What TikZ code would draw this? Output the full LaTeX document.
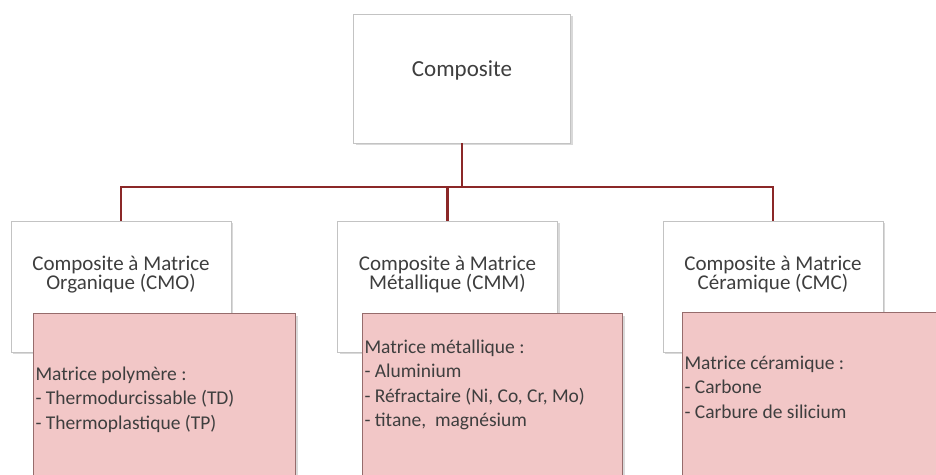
\documentclass[tikz,border=0pt]{standalone}
\usepackage{fontspec}
\setmainfont{Carlito}
\usetikzlibrary{shadows}
\definecolor{linkred}{RGB}{139,40,40}
\definecolor{boxgrey}{RGB}{195,195,195}
\definecolor{detpink}{RGB}{242,199,199}
\definecolor{detedge}{RGB}{150,108,108}
\definecolor{txtgrey}{RGB}{62,62,62}
\begin{document}
\begin{tikzpicture}[x=1pt,y=-1pt,
  link/.style={draw=linkred,line width=2.8pt},
  topbox/.style={draw=boxgrey,fill=white,line width=0.8pt,text=txtgrey,
    drop shadow={shadow xshift=2pt,shadow yshift=-2pt,opacity=0.3},
    minimum width=217pt,minimum height=129pt,font=\fontsize{23}{27}\selectfont},
  catbox/.style={draw=boxgrey,fill=white,line width=0.8pt,text=txtgrey,align=flush center,
    drop shadow={shadow xshift=2pt,shadow yshift=-2pt,opacity=0.3},
    minimum width=220pt,minimum height=131pt,font=\fontsize{21}{19}\selectfont,text depth=27pt},
  detbox/.style={draw=detedge,fill=detpink,line width=1pt,text=txtgrey,align=flush left,anchor=north west,
    drop shadow={shadow xshift=2pt,shadow yshift=-2pt,opacity=0.3},
    inner xsep=2pt,font=\fontsize{19.5}{24.5}\selectfont,text depth=120pt}]
\useasboundingbox (0,0) rectangle (936,474);
\clip (0,0) rectangle (936,474);
% connectors
\coordinate (bus) at (462,187);
\node[topbox,text depth=20pt] (comp) at (462,78.5) {Composite};
\node[catbox] (cmo) at (121,286.5) {Composite à Matrice\\Organique (CMO)};
\node[catbox] (cmm) at (447.5,286.5) {Composite à Matrice\\Métallique (CMM)};
\node[catbox] (cmc) at (773,286.5) {Composite à Matrice\\Céramique (CMC)};
\draw[link] (comp.south) -- (bus);
\draw[link] (cmo.north) |- (cmc.north |- bus) -- (cmc.north);
\draw[link] (cmm.north) -- (cmm.north |- bus);
% details
\node[detbox,text width=258pt,inner ysep=53pt] (cmoDet) at (33,313)
  {Matrice polymère :\\- Thermodurcissable (TD)\\- Thermoplastique (TP)};
\node[detbox,text width=256pt,inner ysep=26pt] (cmmDet) at (362,313)
  {Matrice métallique :\\- Aluminium\\- Réfractaire (Ni, Co, Cr, Mo)\\- titane,\ \ magnésium};
\node[detbox,text width=270pt,inner ysep=43.5pt] (cmcDet) at (682,312)
  {Matrice céramique :\\- Carbone\\- Carbure de silicium};
\end{tikzpicture}
\end{document}
